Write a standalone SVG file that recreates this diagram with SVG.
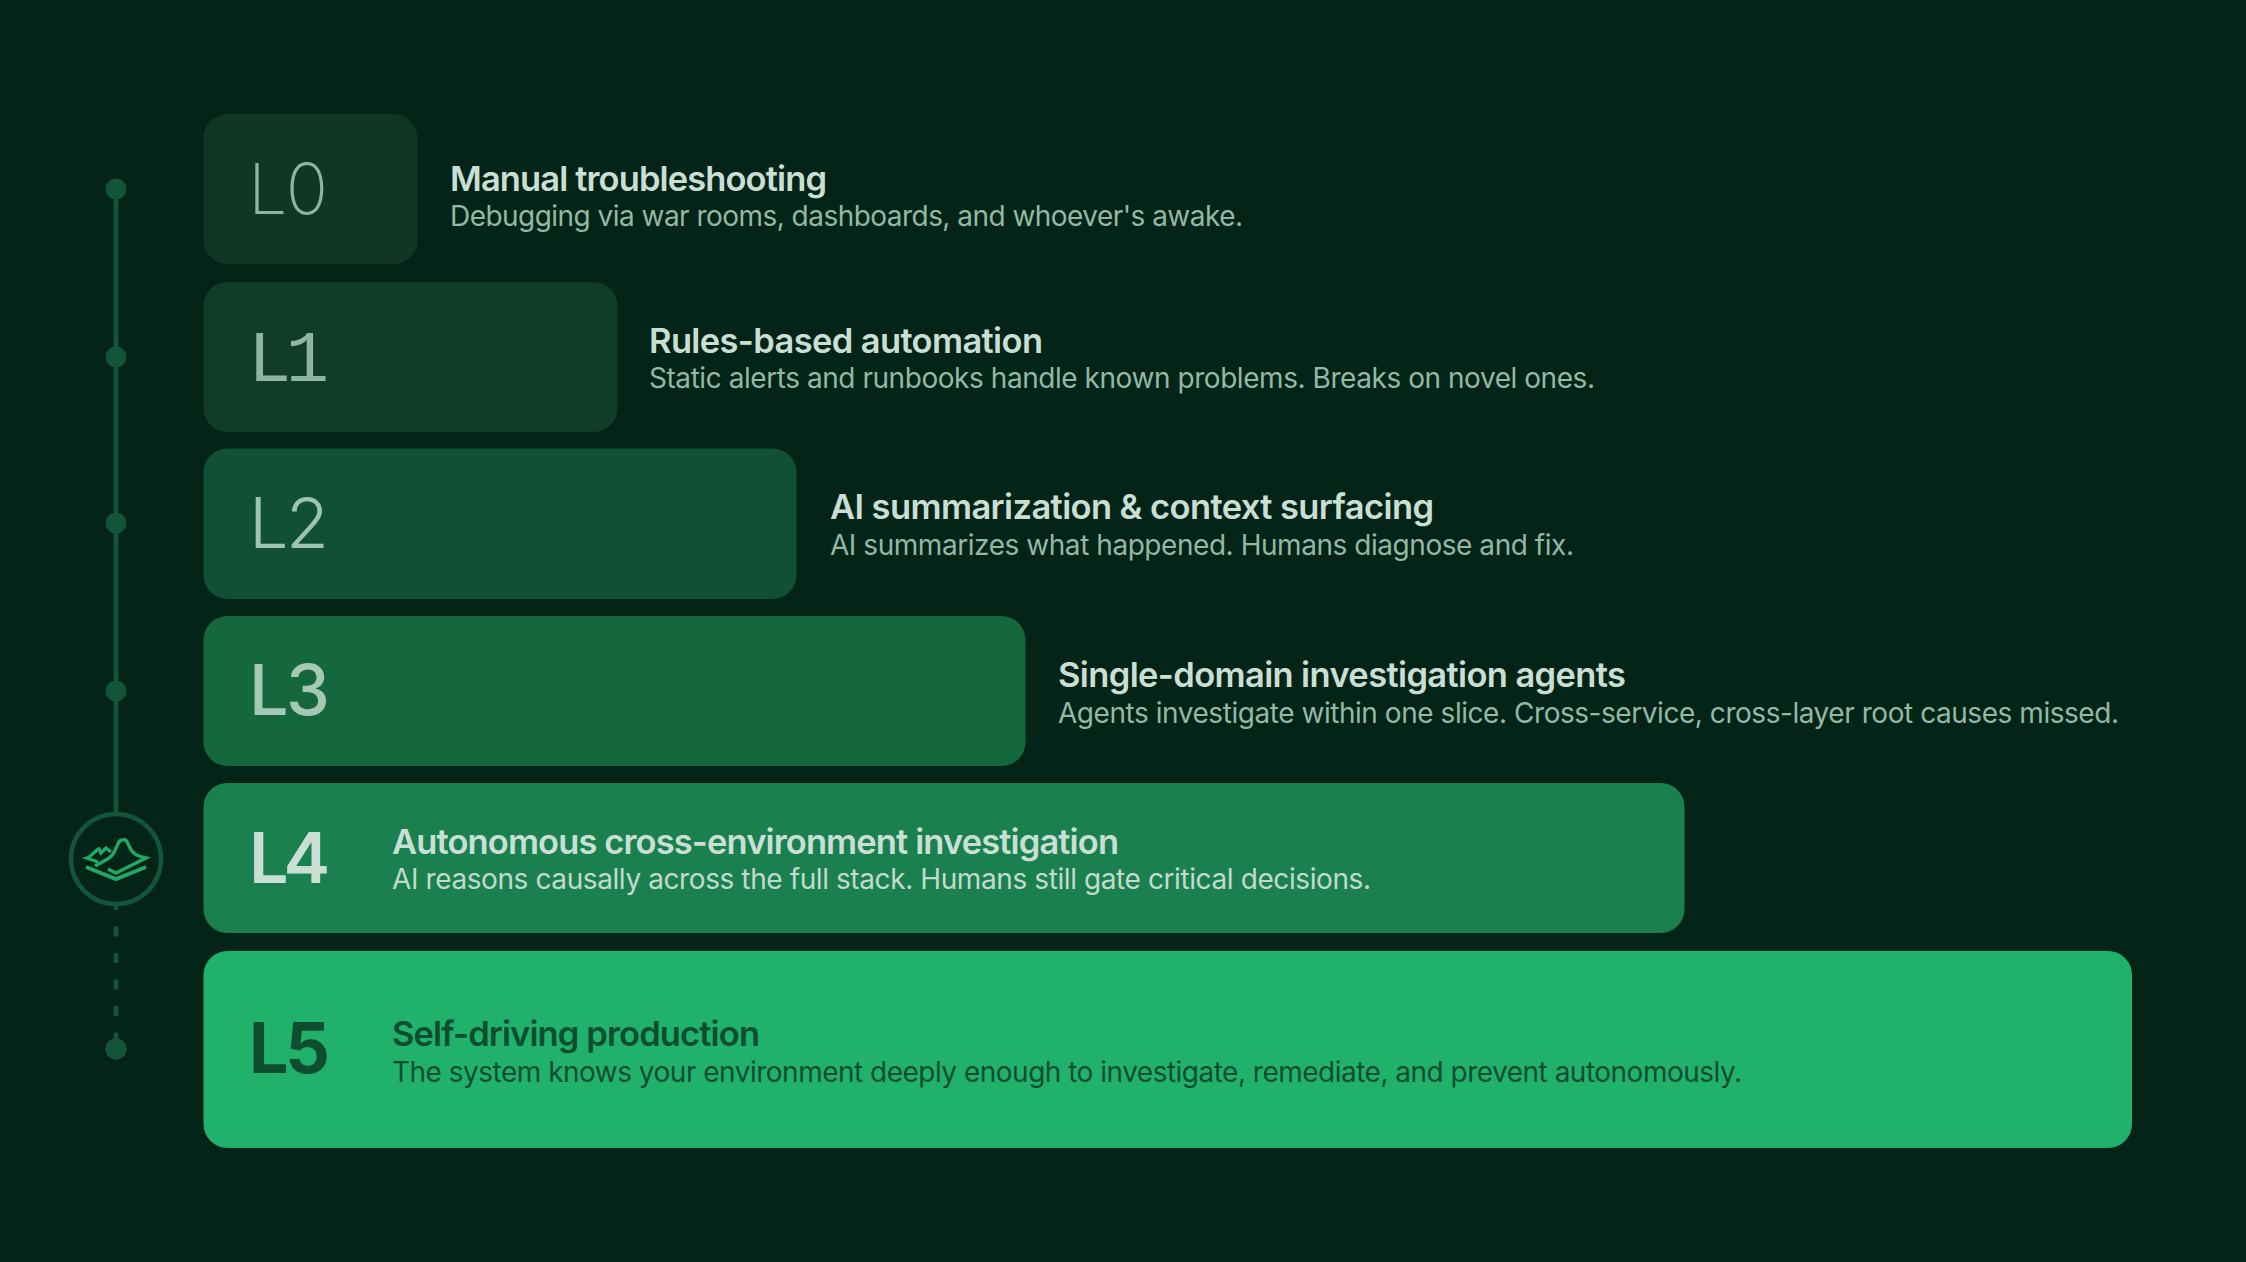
<svg xmlns="http://www.w3.org/2000/svg" width="2246" height="1262" viewBox="0 0 2246 1262">
<style>
.t{font-family:Inter,"Liberation Sans",sans-serif;font-size:34.500px;font-weight:600;fill:#c9dfd4}
.s{font-family:Inter,"Liberation Sans",sans-serif;font-size:28px;font-weight:400;fill:#93b8a5}
.l{font-family:Inter,"Liberation Sans",sans-serif;font-size:70px}
.m{font-family:"Liberation Mono",monospace;font-size:72px}
.line{stroke:#12553a;stroke-width:4.500;fill:none}
.dot{fill:#12553a}
</style>
<rect width="2246" height="1262" fill="#042417"/>
<g id="connectors">
<path class="line" d="M116 189V814"/>
<path class="line" d="M116 905V1040" stroke-dasharray="10 16.500" stroke-dashoffset="5"/>
</g>
<g id="timeline">
<circle class="dot" cx="116" cy="189" r="10.500"/>
<circle class="dot" cx="116" cy="357" r="10.500"/>
<circle class="dot" cx="116" cy="523" r="10.500"/>
<circle class="dot" cx="116" cy="691" r="10.500"/>
<circle class="dot" cx="116" cy="1049" r="10.700"/>
<g id="logo">
<circle cx="116" cy="859" r="45" fill="#042417" stroke="#12553a" stroke-width="4.500"/>
<g fill="none" stroke="#22a766" stroke-width="3.400" stroke-linejoin="miter">
<path d="M86 867L116 879L146 867" stroke-width="4"/>
<path d="M108 869L116 873L146 858C136 856 132 853 129 846C126 838 125 840 122 840C118 840 118 846 113 854C109 860 103 861 95 866"/>
<path d="M111 852L106 848L101 853L99 849C95 850 93 856 87 858L98 862"/>
</g>
</g>
</g>
<g id="L0"><rect x="203.500" y="114" width="214" height="150" rx="24" fill="#103725"/>
<text class="l" x="248" y="214" font-weight="250" fill="#8db5a1" textLength="80">L0</text>
<text class="t" x="450" y="191" textLength="377">Manual troubleshooting</text>
<text class="s" x="450" y="226" textLength="793">Debugging via war rooms, dashboards, and whoever's awake.</text></g>
<g id="L1"><rect x="203.500" y="282" width="414" height="150" rx="24" fill="#103c28"/>
<text class="m" x="248" y="381" fill="#8db5a1" textLength="81">L1</text>
<text class="t" x="649" y="353" textLength="394">Rules-based automation</text>
<text class="s" x="649" y="388" textLength="946">Static alerts and runbooks handle known problems. Breaks on novel ones.</text></g>
<g id="L2"><rect x="203.500" y="448.500" width="593" height="150.500" rx="24" fill="#115034"/>
<text class="l" x="249" y="548" font-weight="300" fill="#9ec4b0" textLength="80">L2</text>
<text class="t" x="830" y="519" textLength="604">AI summarization &amp; context surfacing</text>
<text class="s" x="830" y="555" textLength="744">AI summarizes what happened. Humans diagnose and fix.</text></g>
<g id="L3"><rect x="203.500" y="616" width="822" height="150" rx="24" fill="#15673e"/>
<text class="l" x="249" y="715" font-weight="500" fill="#a6c9b6" textLength="81">L3</text>
<text class="t" x="1058" y="687" textLength="568">Single-domain investigation agents</text>
<text class="s" x="1058" y="723" textLength="1061">Agents investigate within one slice. Cross-service, cross-layer root causes missed.</text></g>
<g id="L4"><rect x="203.500" y="783" width="1481" height="150" rx="24" fill="#1a8050"/>
<text class="l" x="249" y="883" font-weight="600" fill="#c9dfd4" textLength="81">L4</text>
<text class="t" x="392" y="854" textLength="727">Autonomous cross-environment investigation</text>
<text class="s" x="392" y="889" textLength="979" style="fill:#c2dacd">AI reasons causally across the full stack. Humans still gate critical decisions.</text></g>
<g id="L5"><rect x="203.500" y="951" width="1928.500" height="197" rx="24" fill="#20b26b"/>
<text class="l" x="249" y="1073" font-weight="700" fill="#0f4d31" textLength="81">L5</text>
<text class="t" x="392" y="1046" textLength="368" style="fill:#0f4d31">Self-driving production</text>
<text class="s" x="392" y="1082" textLength="1350" style="fill:#0f4d31">The system knows your environment deeply enough to investigate, remediate, and prevent autonomously.</text></g>
</svg>
